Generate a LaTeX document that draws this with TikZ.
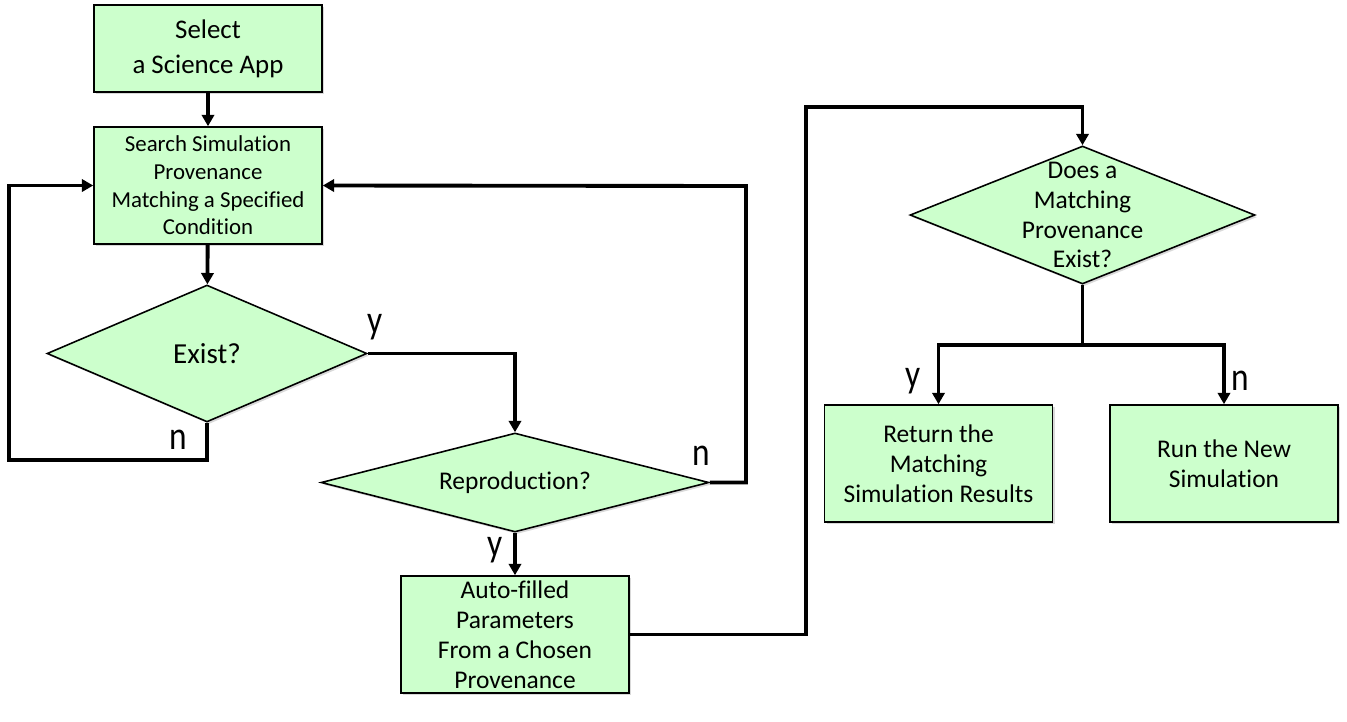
\documentclass[tikz,border=0pt]{standalone}
\usepackage{fontspec}
\setmainfont{Carlito}[Ligatures=CommonOff]
\usepackage{tikz}
\usetikzlibrary{arrows.meta,positioning,calc,shapes.geometric,shadows}

\newcommand{\branchmark}[1]{\scalebox{1}[1.2]{#1}}

\begin{document}
\begin{tikzpicture}[
  x=0.02cm,y=-0.02cm,>={Triangle[length=6.5pt,width=7pt]},
  flow/.style={->,line width=2.2pt},
  task/.style={draw,line width=0.9pt,fill=green!20!white,align=center,
    minimum width=4.56cm,minimum height=2.34cm,inner sep=0pt,
    drop shadow={opacity=0.3,shadow xshift=1.2pt,shadow yshift=-1.2pt},
    font=\fontsize{14.5}{17}\selectfont},
  ask/.style={draw,diamond,line width=0.9pt,fill=green!20!white,inner sep=0pt,
    drop shadow={opacity=0.3,shadow xshift=1.2pt,shadow yshift=-1.2pt}},
  asktext/.style={align=center,font=\fontsize{14.5}{17}\selectfont},
  yn/.style={inner sep=0pt,font=\fontsize{19}{21}\selectfont}
]
  \useasboundingbox (0,0) rectangle (1347,721);
  \node[task,minimum height=1.74cm,font=\fontsize{15.3}{19.8}\selectfont] (app) at (208,48.5)
    {Select\\a Science App};
  \node[task,font=\fontsize{13}{15.7}\selectfont] (search) at (208,185.5)
    {Search Simulation\\Provenance\\Matching a Specified\\Condition};
  \node[ask,minimum width=6.4cm,minimum height=2.74cm,
    label={[asktext,font=\fontsize{16.5}{19}\selectfont]center:Exist?}] (exist) at (207,353.5) {};
  \node[ask,minimum width=7.76cm,minimum height=1.98cm,
    label={[asktext]center:Reproduction?}] (repro) at (515,482.5) {};
  \node[task] (params) at (515,634.5)
    {Auto-filled\\Parameters\\From a Chosen\\Provenance};
  \node[ask,minimum width=6.9cm,minimum height=2.76cm,
    label={[asktext]center:Does a\\Matching\\Provenance\\Exist?}] (match) at (1082.5,215) {};
  \node[task] (found) at (938.5,463.5)
    {Return the\\Matching\\Simulation Results};
  \node[task] (runnew) at (1224,463.5) {Run the New\\Simulation};

  \coordinate (leftturn) at (9,460);
  \coordinate (rightturn) at (746,186);
  \coordinate (overturn) at (806,107);
  \coordinate (split) at (1082.5,345);

  \draw[flow] (app) -- (search);
  \draw[flow] (search) -- (exist);
  \draw[flow] (exist.south) |- (leftturn) |- (search.west);
  \draw[flow] (exist.east) -| (repro.north);
  \draw[flow] (repro.east) -| (rightturn) -- (search.east);
  \draw[flow] (repro) -- (params);
  \draw[flow] (params.east) -| (overturn) -| (match.north);
  \draw[flow,-] (match.south) -- (split);
  \draw[flow] (split) -| (found.north);
  \draw[flow] (split) -| (runnew.north);

  \node[yn] (existy) at (375,327) {\branchmark{y}};
  \node[yn] (existn) at (178,440) {\branchmark{n}};
  \node[yn] (repron) at (701,456) {\branchmark{n}};
  \node[yn] (reproy) at (495,550) {\branchmark{y}};
  \node[yn] (matchy) at (913,381) {\branchmark{y}};
  \node[yn] (matchn) at (1240,381) {\branchmark{n}};
\end{tikzpicture}
\end{document}
